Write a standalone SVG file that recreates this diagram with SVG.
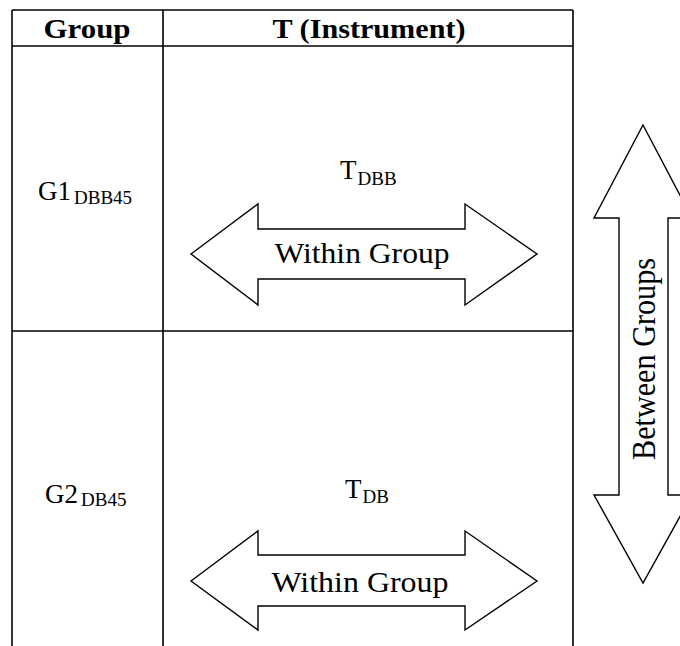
<svg xmlns="http://www.w3.org/2000/svg" width="680" height="646" viewBox="0 0 680 646">
  <style>
    text { font-family: "Liberation Serif", "Times New Roman", serif; fill: #000; }
    .hdr { font-size: 28px; font-weight: bold; text-anchor: middle; }
    .lbl { font-size: 27px; }
    .sub { font-size: 19px; }
    .arr-txt { font-size: 30px; text-anchor: middle; }
    .grid { stroke: #000; stroke-width: 1.6; fill: none; }
    .arrow { stroke: #000; stroke-width: 1.4; fill: #fff; stroke-linejoin: miter; }
  </style>

  <rect width="680" height="646" fill="#fff"/>

  <!-- table frame -->
  <g id="table" class="grid">
    <line x1="12" y1="10" x2="573" y2="10"/>
    <line x1="12" y1="46" x2="573" y2="46"/>
    <line x1="12" y1="331" x2="573" y2="331"/>
    <line x1="12" y1="10" x2="12" y2="646"/>
    <line x1="163" y1="10" x2="163" y2="646"/>
    <line x1="573" y1="10" x2="573" y2="646"/>
  </g>

  <!-- header row -->
  <g id="header">
    <text class="hdr" x="87" y="38" textLength="87" lengthAdjust="spacingAndGlyphs">Group</text>
    <text class="hdr" x="369" y="38" textLength="193" lengthAdjust="spacingAndGlyphs">T (Instrument)</text>
  </g>

  <!-- group labels -->
  <g id="g1">
    <text x="38" y="200"><tspan class="lbl">G1</tspan><tspan class="sub" dx="3" y="204">DBB45</tspan></text>
  </g>
  <g id="g2">
    <text x="45" y="503"><tspan class="lbl">G2</tspan><tspan class="sub" dx="3" y="506">DB45</tspan></text>
  </g>

  <!-- instrument labels -->
  <g id="t-dbb">
    <text x="340" y="179"><tspan class="lbl">T</tspan><tspan class="sub" dx="1" y="185">DBB</tspan></text>
  </g>
  <g id="t-db">
    <text x="345" y="498"><tspan class="lbl">T</tspan><tspan class="sub" dx="1" y="503">DB</tspan></text>
  </g>

  <!-- double-headed block arrows -->
  <g id="connectors">
    <g id="within-1">
      <polygon class="arrow" points="191,254 258,204 258,229 465,229 465,204 537,254 465,305 465,279 258,279 258,305"/>
      <text class="arr-txt" x="362" y="263" textLength="175" lengthAdjust="spacingAndGlyphs">Within Group</text>
    </g>
    <g id="within-2">
      <polygon class="arrow" points="191,581 258,531 258,555 465,555 465,531 537,581 465,630 465,606 258,606 258,630"/>
      <text class="arr-txt" x="360" y="592" textLength="177" lengthAdjust="spacingAndGlyphs">Within Group</text>
    </g>
    <g id="between">
      <polygon class="arrow" points="643,125 692,218 668,218 668,495 692,495 643,583 594,495 619,495 619,218 594,218"/>
      <text class="arr-txt" style="font-size:33px" transform="translate(655,359) rotate(-90)" textLength="202" lengthAdjust="spacingAndGlyphs">Between Groups</text>
    </g>
  </g>
</svg>
